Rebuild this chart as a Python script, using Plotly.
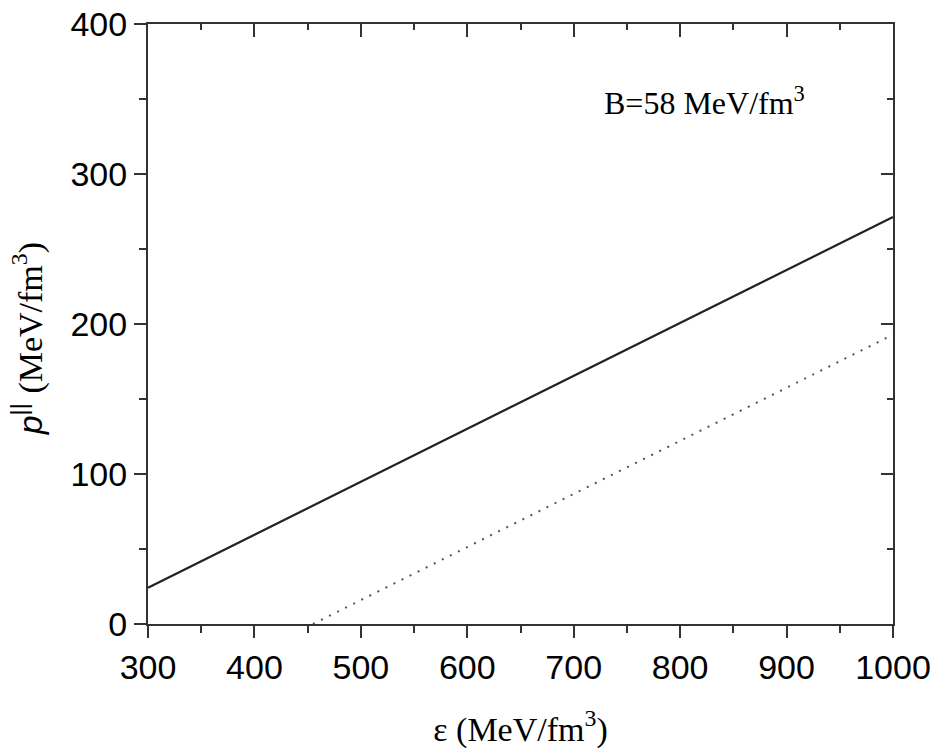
import plotly.graph_objects as go

# Data
eps_solid = [300, 400, 500, 600, 700, 800, 900, 1000]
p_solid = [24.2, 59.5, 94.8, 130.1, 165.4, 200.7, 236.0, 271.3]
eps_dotted = [455, 500, 600, 700, 800, 900, 1000]
p_dotted = [0.0, 15.9, 51.3, 86.7, 122.1, 157.5, 192.9]

x_range = [300, 1000]
y_range = [0, 400]
x_ticks = [300, 400, 500, 600, 700, 800, 900, 1000]
y_ticks = [0, 100, 200, 300, 400]

axis_color = "#333333"
sans = "Liberation Sans, Arial, sans-serif"
serif = "Liberation Serif, Times New Roman, serif"

fig = go.Figure()
fig.add_trace(go.Scatter(x=eps_solid, y=p_solid, mode="lines",
                         line=dict(color="#222222", width=2.2), showlegend=False,
                         hoverinfo="skip"))
fig.add_trace(go.Scatter(x=eps_dotted, y=p_dotted, mode="lines",
                         line=dict(color="#555555", width=2, dash="2px,7px"),
                         showlegend=False, hoverinfo="skip"))
# invisible trace to bind mirrored axes
fig.add_trace(go.Scatter(x=[x_range[0]], y=[y_range[0]], xaxis="x2", yaxis="y2",
                         mode="markers", marker=dict(opacity=0), showlegend=False,
                         hoverinfo="skip"))

fig.update_layout(
    width=935, height=754,
    margin=dict(l=148, r=42, t=24, b=130),
    paper_bgcolor="white", plot_bgcolor="white",
    xaxis=dict(range=x_range, tickvals=x_ticks, ticks="outside", ticklen=12,
               tickwidth=2, tickcolor=axis_color, showline=True, linewidth=2,
               linecolor=axis_color, showgrid=False, zeroline=False,
               automargin=False,
               tickfont=dict(family=sans, size=34, color="black"),
               minor=dict(ticks="outside", ticklen=7, tickwidth=2, dtick=50,
                          tick0=300, tickcolor=axis_color, showgrid=False),
               title=dict(text="ε (MeV/fm<sup>3</sup>)",
                          font=dict(family=serif, size=34, color="black"),
                          standoff=32)),
    yaxis=dict(range=y_range, tickvals=y_ticks, ticks="outside", ticklen=12,
               tickwidth=2, tickcolor=axis_color, showline=True, linewidth=2,
               linecolor=axis_color, showgrid=False, zeroline=False,
               automargin=False,
               tickfont=dict(family=sans, size=34, color="black"),
               minor=dict(ticks="outside", ticklen=7, tickwidth=2, dtick=50,
                          tick0=0, tickcolor=axis_color, showgrid=False),
               title=dict(text="<i>p</i><sup>||</sup> "
                               "<span style='font-family:Liberation Serif'>(MeV/fm<sup>3</sup>)</span>"
                               "&nbsp;&nbsp;&nbsp;",
                          font=dict(family=sans, size=34, color="black"),
                          standoff=18)),
    xaxis2=dict(range=x_range, overlaying="x", side="top", tickvals=x_ticks,
                ticks="inside", ticklen=13, tickwidth=2, tickcolor=axis_color,
                showticklabels=False, showline=True, linewidth=2,
                linecolor=axis_color, showgrid=False, zeroline=False,
                automargin=False,
                minor=dict(ticks="inside", ticklen=6, tickwidth=2, dtick=50,
                           tick0=300, tickcolor=axis_color, showgrid=False)),
    yaxis2=dict(range=y_range, overlaying="y", side="right", tickvals=y_ticks,
                ticks="inside", ticklen=12, tickwidth=2, tickcolor=axis_color,
                showticklabels=False, showline=True, linewidth=2,
                linecolor=axis_color, showgrid=False, zeroline=False,
                automargin=False,
                minor=dict(ticks="inside", ticklen=6, tickwidth=2, dtick=50,
                           tick0=0, tickcolor=axis_color, showgrid=False)),
    annotations=[dict(text="B=58 MeV/fm<sup>3</sup>", x=727, y=349,
                      xref="x", yref="y", xanchor="left", yanchor="middle",
                      showarrow=False,
                      font=dict(family=serif, size=32, color="black"))],
)

fig.write_html("out.html")
